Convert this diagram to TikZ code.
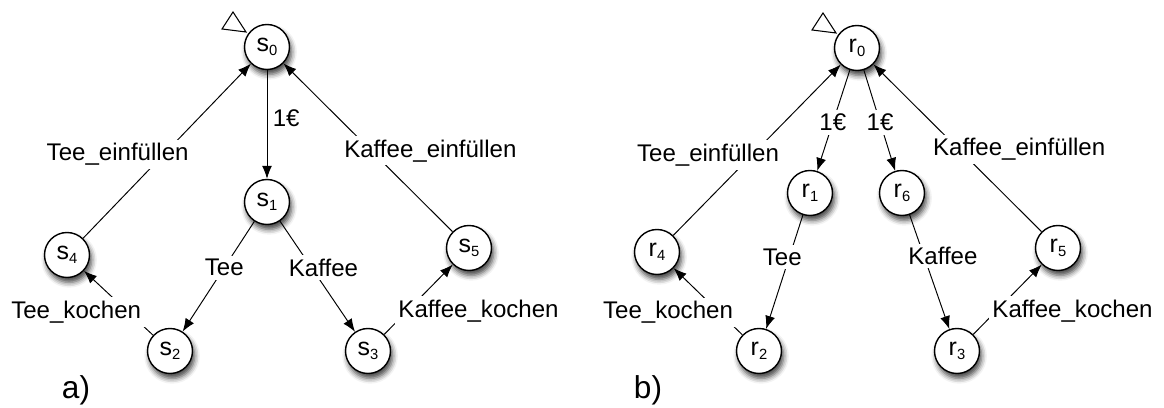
\documentclass[tikz,border=0pt]{standalone}
\usepackage{fontspec}
\setmainfont{Liberation Sans}
\usetikzlibrary{arrows.meta,shadows.blur}

% state name with a lowered index
\newcommand{\stn}[2]{#1\raisebox{-2.6pt}{\fontsize{8.4}{8}\selectfont #2}}

\begin{document}
\begin{tikzpicture}[
            x=0.02cm, y=-0.02cm,
            font=\fontsize{13.7}{16}\selectfont,
            state/.style={circle, draw, line width=0.8pt, fill=white,
                minimum size=0.9cm, inner sep=0pt,
                font=\fontsize{14.2}{16}\selectfont,
                blur shadow={shadow xshift=1.2pt, shadow yshift=-2.8pt,
                    shadow blur radius=3pt, shadow opacity=75}},
            trans/.style={-{Latex[length=0.26cm,width=0.2cm]}, line width=0.55pt},
            lbl/.style={fill=white, inner sep=2pt},
            caption/.style={font=\fontsize{18}{20}\selectfont},
            initmark/.style={line width=0.6pt, line join=miter}]

            \useasboundingbox (0,0) rectangle (1164,408);

            % a) one coin, then tea or coffee
            \node[state] (s0) at (267,47)  {\stn{s}{0}};
            \node[state] (s1) at (267,202) {\stn{s}{1}};
            \node[state] (s2) at (170,351) {\stn{s}{2}};
            \node[state] (s3) at (368,351) {\stn{s}{3}};
            \node[state] (s4) at (67,255)  {\stn{s}{4}};
            \node[state] (s5) at (469,248) {\stn{s}{5}};
            \draw[initmark] ([shift={(-45,-18)}]s0.center) -- ++(11,-17) -- ++(13,20) -- cycle;

            \draw[trans] (s0) -- node[lbl, right, pos=.44, xshift=1pt]{1€} (s1);
            \draw[trans] (s1) -- node[lbl, pos=.42]{Tee} (s2);
            \draw[trans] (s1) -- node[lbl, pos=.42, xshift=0.24cm]{Kaffee} (s3);
            \draw[trans] (s2) -- node[lbl, pos=.36, xshift=-1.04cm]{Tee\_kochen} (s4);
            \draw[trans] (s3) -- node[lbl, pos=.34, xshift=1.42cm]{Kaffee\_kochen} (s5);
            \draw[trans] (s4) -- node[lbl, pos=.48, xshift=-0.92cm]{Tee\_einfüllen} (s0);
            \draw[trans] (s5) -- node[lbl, pos=.48, xshift=1.18cm]{Kaffee\_einfüllen} (s0);

            \node[caption] (capa) at (76,390) {a)};

            % b) the choice is made with the coin
            \node[state] (r0) at (857,48)   {\stn{r}{0}};
            \node[state] (r1) at (810,193)  {\stn{r}{1}};
            \node[state] (r6) at (902,193)  {\stn{r}{6}};
            \node[state] (r2) at (759,351)  {\stn{r}{2}};
            \node[state] (r3) at (957,351)  {\stn{r}{3}};
            \node[state] (r4) at (657,252)  {\stn{r}{4}};
            \node[state] (r5) at (1058,248) {\stn{r}{5}};
            \draw[initmark] ([shift={(-45,-18)}]r0.center) -- ++(11,-17) -- ++(13,20) -- cycle;

            \draw[trans] (r0) -- node[lbl, pos=.52]{1€} (r1);
            \draw[trans] (r0) -- node[lbl, pos=.52]{1€} (r6);
            \draw[trans] (r1) -- node[lbl, pos=.37, xshift=-0.14cm]{Tee} (r2);
            \draw[trans] (r6) -- node[lbl, pos=.36, xshift=0.38cm]{Kaffee} (r3);
            \draw[trans] (r2) -- node[lbl, pos=.34, xshift=-1.02cm]{Tee\_kochen} (r4);
            \draw[trans] (r3) -- node[lbl, pos=.34, xshift=1.52cm]{Kaffee\_kochen} (r5);
            \draw[trans] (r4) -- node[lbl, pos=.47, xshift=-0.88cm]{Tee\_einfüllen} (r0);
            \draw[trans] (r5) -- node[lbl, pos=.49, xshift=1.2cm]{Kaffee\_einfüllen} (r0);

            \node[caption] (capb) at (648,390) {b)};
        \end{tikzpicture}
\end{document}
